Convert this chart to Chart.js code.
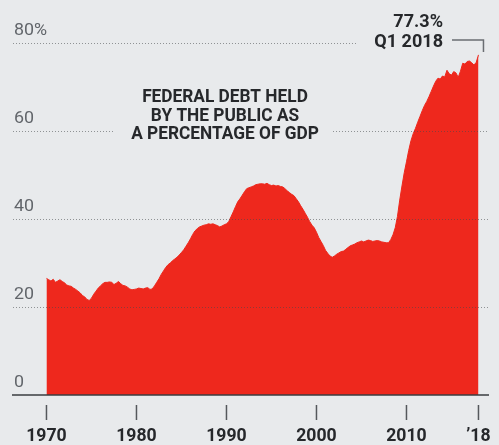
<!DOCTYPE html>
<html lang="en">
<head>
    <meta charset="UTF-8">
    <title>Federal debt held by the public</title>
    <script src="https://cdn.jsdelivr.net/npm/chart.js"></script>
    <style>
        body { margin: 0; background: #e8eaec; }
        canvas { display: block; }
    </style>
</head>
<body>
    <canvas id="debtChart" width="499" height="445"></canvas>

    <script>
        // Quarterly federal debt held by the public, % of GDP (Q1..Q4 per year)
        const debt1970s = [
            26.5, 26.2, 25.9, 26.3,   25.6, 25.9, 26.2, 25.8,
            25.5, 25.0, 24.8, 24.7,   24.3, 24.0, 23.6, 23.2,
            22.6, 22.3, 21.7, 21.5,   22.0, 22.9, 23.6, 24.3,
            24.8, 25.3, 25.6, 25.6,   25.7, 25.6, 25.1, 25.4,
            25.8, 25.3, 24.9, 24.8,   24.5, 24.1, 23.9, 24.0
        ];
        const debt1980s = [
            24.1, 24.3, 24.2, 24.1,   24.3, 24.4, 24.0, 24.1,
            24.8, 25.6, 26.4, 27.4,   28.2, 29.0, 29.6, 30.0,
            30.5, 30.9, 31.3, 31.8,   32.4, 33.0, 33.8, 34.6,
            35.5, 36.5, 37.3, 37.8,   38.2, 38.4, 38.6, 38.7,
            38.9, 38.8, 38.9, 38.7,   38.5, 38.2, 38.4, 38.7
        ];
        const debt1990s = [
            38.9, 39.4, 40.5, 41.6,   42.8, 43.9, 44.6, 45.4,
            46.2, 46.9, 47.1, 47.3,   47.5, 47.8, 47.9, 48.0,
            48.0, 47.9, 48.1, 47.8,   47.6, 47.7, 47.5, 47.6,
            47.4, 47.3, 46.9, 46.4,   46.0, 45.6, 45.3, 44.6,
            43.9, 43.0, 42.2, 41.3,   40.4, 39.4, 38.6, 38.0
        ];
        const debt2000s = [
            37.0, 35.8, 34.9, 34.0,   32.9, 32.2, 31.6, 31.3,
            31.6, 32.0, 32.3, 32.6,   32.7, 33.1, 33.5, 33.9,
            34.1, 34.3, 34.6, 34.8,   35.0, 34.8, 35.0, 35.2,
            35.1, 34.9, 35.0, 35.1,   35.0, 34.8, 34.7, 34.6,
            34.6, 35.3, 36.4, 38.0,   40.6, 44.3, 47.5, 50.5
        ];
        const debt2010s = [
            53.0, 55.6, 57.8, 59.4,   60.6, 62.0, 63.3, 64.6,
            65.8, 66.7, 67.8, 69.0,   70.2, 71.3, 72.0, 71.8,
            72.5, 72.3, 73.8, 73.0,   72.7, 73.5, 73.2, 72.2,
            73.6, 75.4, 75.2, 75.8,   75.9, 75.5, 75.0, 75.6,
            77.3
        ];
        const firstYear = 1970;

        const xTicks = [1970, 1980, 1990, 2000, 2010, 2018];
        const xTickLabels = ['1970', '1980', '1990', '2000', '2010', '\u201918'];
        const yTicks = [0, 20, 40, 60, 80];
        const yTickLabels = ['0', '20', '40', '60', '80%'];

        const titleLines = ['FEDERAL DEBT HELD', 'BY THE PUBLIC AS', 'A PERCENTAGE OF GDP'];
        const calloutLines = ['77.3%', 'Q1 2018'];

        const quarterly = [].concat(debt1970s, debt1980s, debt1990s, debt2000s, debt2010s);
        const points = quarterly.map((v, i) => ({ x: firstYear + i / 4, y: v }));

        const RED = '#ee281d';
        const INK = '#26282b';
        const GREY = '#62666b';

        // dotted guides, broken where the text sits
        const gridSpans = {
            80: [[13, 356]],
            60: [[13, 115], [333, 489]],
            40: [[13, 489]],
            20: [[13, 489]]
        };

        function squeezedText(ctx, text, x, y, sx) {
            ctx.save();
            ctx.translate(x, y);
            ctx.scale(sx, 1);
            ctx.fillText(text, 0, 0);
            ctx.restore();
        }

        const decorations = {
            id: 'decorations',
            beforeDraw(chart) {
                const ctx = chart.ctx;
                ctx.save();
                ctx.fillStyle = '#e8eaec';
                ctx.fillRect(0, 0, chart.width, chart.height);
                ctx.restore();
            },
            afterDatasetsDraw(chart) {
                const ctx = chart.ctx;
                const xs = chart.scales.x;
                const ys = chart.scales.y;
                const area = chart.chartArea;

                ctx.save();

                // gridlines
                ctx.strokeStyle = 'rgba(70, 72, 76, 0.55)';
                ctx.lineWidth = 1;
                ctx.setLineDash([1, 2]);
                Object.keys(gridSpans).forEach(v => {
                    const y = Math.round(ys.getPixelForValue(+v)) + 0.5;
                    gridSpans[v].forEach(([a, b]) => {
                        ctx.beginPath();
                        ctx.moveTo(a, y);
                        ctx.lineTo(b, y);
                        ctx.stroke();
                    });
                });
                ctx.setLineDash([]);

                // baseline
                const y0 = ys.getPixelForValue(0);
                ctx.strokeStyle = '#3a3c40';
                ctx.lineWidth = 1.5;
                ctx.beginPath();
                ctx.moveTo(12, y0);
                ctx.lineTo(area.right, y0);
                ctx.stroke();

                // y labels
                ctx.fillStyle = GREY;
                ctx.font = '17px Roboto';
                ctx.textAlign = 'left';
                ctx.textBaseline = 'alphabetic';
                yTicks.forEach((v, i) => {
                    squeezedText(ctx, yTickLabels[i], 14, ys.getPixelForValue(v) - 8, 1.05);
                });

                // x tick marks and labels
                ctx.strokeStyle = '#55585c';
                ctx.lineWidth = 1.5;
                ctx.fillStyle = INK;
                ctx.font = 'bold 18px Roboto';
                ctx.textAlign = 'center';
                xTicks.forEach((v, i) => {
                    const x = xs.getPixelForValue(v);
                    ctx.beginPath();
                    ctx.moveTo(x, y0 + 10);
                    ctx.lineTo(x, y0 + 25);
                    ctx.stroke();
                    squeezedText(ctx, xTickLabels[i], x, y0 + 46, 0.98);
                });

                // title
                ctx.font = 'bold 18px Roboto';
                ctx.fillStyle = INK;
                titleLines.forEach((t, i) => {
                    squeezedText(ctx, t, 225, 102 + i * 18.5, 0.96);
                });

                // callout for the last quarter
                const last = points[points.length - 1];
                const lx = xs.getPixelForValue(last.x) + 5;
                ctx.font = 'bold 19px Roboto';
                ctx.textAlign = 'right';
                calloutLines.forEach((t, i) => {
                    squeezedText(ctx, t, 443, 27 + i * 20, 0.95);
                });
                ctx.strokeStyle = '#6a6d72';
                ctx.lineWidth = 1.5;
                ctx.beginPath();
                ctx.moveTo(452, 40);
                ctx.lineTo(lx, 40);
                ctx.lineTo(lx, 52);
                ctx.stroke();

                ctx.restore();
            }
        };

        const ctx = document.getElementById('debtChart').getContext('2d');
        const debtChart = new Chart(ctx, {
            type: 'line',
            data: {
                datasets: [{
                    data: points,
                    fill: 'origin',
                    backgroundColor: RED,
                    borderColor: RED,
                    borderWidth: 1,
                    pointRadius: 0,
                    tension: 0
                }]
            },
            options: {
                responsive: false,
                animation: false,
                layout: { padding: { left: 12, right: 10, top: 43, bottom: 50 } },
                plugins: { legend: { display: false }, tooltip: { enabled: false } },
                scales: {
                    x: { type: 'linear', min: 1966.17, max: 2019.17, display: false },
                    y: { min: 0, max: 80, display: false }
                }
            },
            plugins: [decorations]
        });
    </script>
</body>
</html>
